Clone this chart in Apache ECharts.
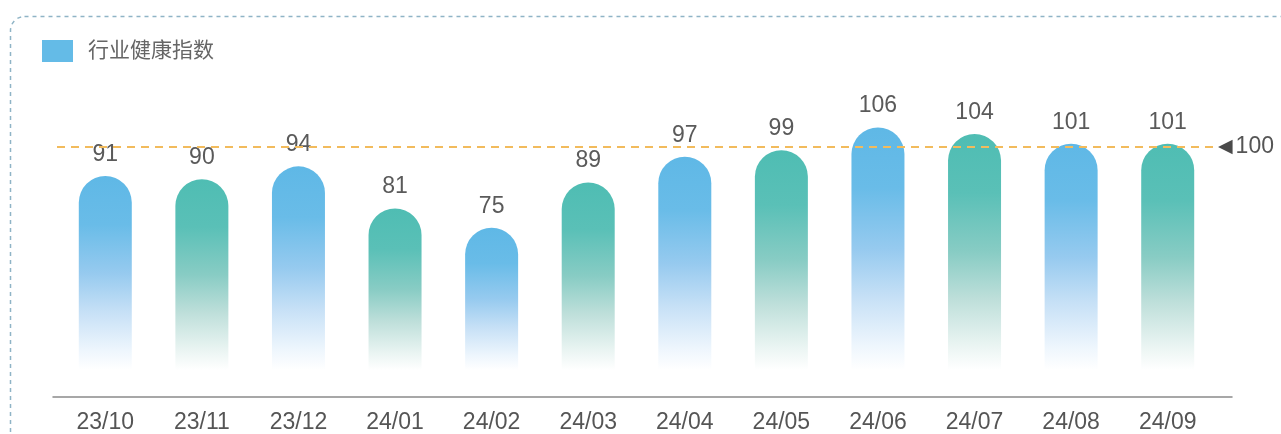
<!DOCTYPE html>
<html>
<head>
<meta charset="utf-8">
<script src="https://cdn.jsdelivr.net/npm/echarts@6/dist/echarts.min.js"></script>
<style>
  html, body { margin: 0; padding: 0; background: #ffffff; }
  #chart { width: 1281px; height: 434px; }
</style>
</head>
<body>
<div id="chart"></div>
<script>
// Monthly industry health index
const months = ['23/10', '23/11', '23/12', '24/01', '24/02', '24/03',
                '24/04', '24/05', '24/06', '24/07', '24/08', '24/09'];
const healthIndex = [91, 90, 94, 81, 75, 89, 97, 99, 106, 104, 101, 101];
const seriesName = '行业健康指数';
const baseline = 100;

const FONT = '"Liberation Sans", Arial, "Noto Sans CJK SC", sans-serif';

// vertical fades: solid at the rounded top, dissolving to white at the foot
function fade(stops) {
  return {
    type: 'linear', x: 0, y: 0, x2: 0, y2: 1,
    colorStops: stops.map(([offset, color]) => ({ offset, color }))
  };
}
const blueFade = fade([[0, '#5fb8e6'], [0.25, '#69bce8'], [0.5, '#96caef'],
                       [0.7, '#c6e0f6'], [0.9, '#eef6fd'], [1, '#ffffff']]);
const tealFade = fade([[0, '#4fbdb3'], [0.25, '#5ac0b7'], [0.5, '#88ccc4'],
                       [0.7, '#bedfda'], [0.9, '#ebf5f3'], [1, '#ffffff']]);

const barData = healthIndex.map((v, i) => ({
  value: v,
  itemStyle: { color: i % 2 === 0 ? blueFade : tealFade }
}));

const chart = echarts.init(document.getElementById('chart'), null, { renderer: 'canvas' });

chart.setOption({
  animation: false,
  backgroundColor: '#ffffff',
  textStyle: { fontFamily: FONT },
  graphic: [{
    type: 'rect',
    silent: true,
    z: -10,
    shape: { x: 10.5, y: 16.5, width: 1400, height: 600, r: 14 },
    style: { fill: 'none', stroke: '#8fb4c6', lineWidth: 1.5, lineDash: [4, 4] }
  }],
  legend: {
    left: 42,
    top: 40,
    padding: 0,
    icon: 'rect',
    itemWidth: 31,
    itemHeight: 22,
    data: [{ name: seriesName, itemStyle: { color: '#64bbe7' } }],
    textStyle: { fontSize: 21, color: '#666666', fontFamily: FONT, padding: [0, 0, 0, 10] }
  },
  grid: [
    { left: 57, right: 65, top: 50, bottom: 62 },
    { left: 53, right: 49, top: 50, bottom: 62 }
  ],
  xAxis: [{
    type: 'category',
    gridIndex: 0,
    data: months,
    offset: 25,
    axisLine: { show: false, onZero: false },
    axisTick: { show: false },
    axisLabel: { fontSize: 23, color: '#555555', margin: 16, fontFamily: FONT }
  }, {
    type: 'category',
    gridIndex: 1,
    data: [''],
    offset: 25,
    axisLine: { show: true, onZero: false, lineStyle: { color: '#8a8a8a', width: 1.5 } },
    axisTick: { show: false },
    axisLabel: { show: false }
  }],
  yAxis: [{
    type: 'value',
    gridIndex: 0,
    min: 31,
    max: 130,
    show: false,
    splitLine: { show: false }
  }, {
    type: 'value',
    gridIndex: 1,
    min: 31,
    max: 130,
    show: false,
    splitLine: { show: false }
  }],
  series: [{
    name: seriesName,
    type: 'bar',
    xAxisIndex: 0,
    yAxisIndex: 0,
    barWidth: 53,
    data: barData,
    itemStyle: { borderRadius: [27, 27, 0, 0] },
    label: {
      show: true,
      position: 'top',
      distance: 10,
      fontSize: 23,
      color: '#5a5a5a',
      fontFamily: FONT
    },
    markLine: {
      silent: true,
      symbol: ['none', 'none'],
      lineStyle: { color: '#f2bb5c', type: [8, 6], width: 2 },
      label: {
        position: 'end',
        distance: 2,
        formatter: '{t|◀}{v|' + baseline + '}',
        rich: {
          t: { fontSize: 19, color: '#4a4a4a', fontFamily: 'DejaVu Sans', padding: [0, 3, 0, 0] },
          v: { fontSize: 23, color: '#555555', fontFamily: FONT }
        }
      },
      data: [{ yAxis: baseline }]
    }
  }]
});
</script>
</body>
</html>
